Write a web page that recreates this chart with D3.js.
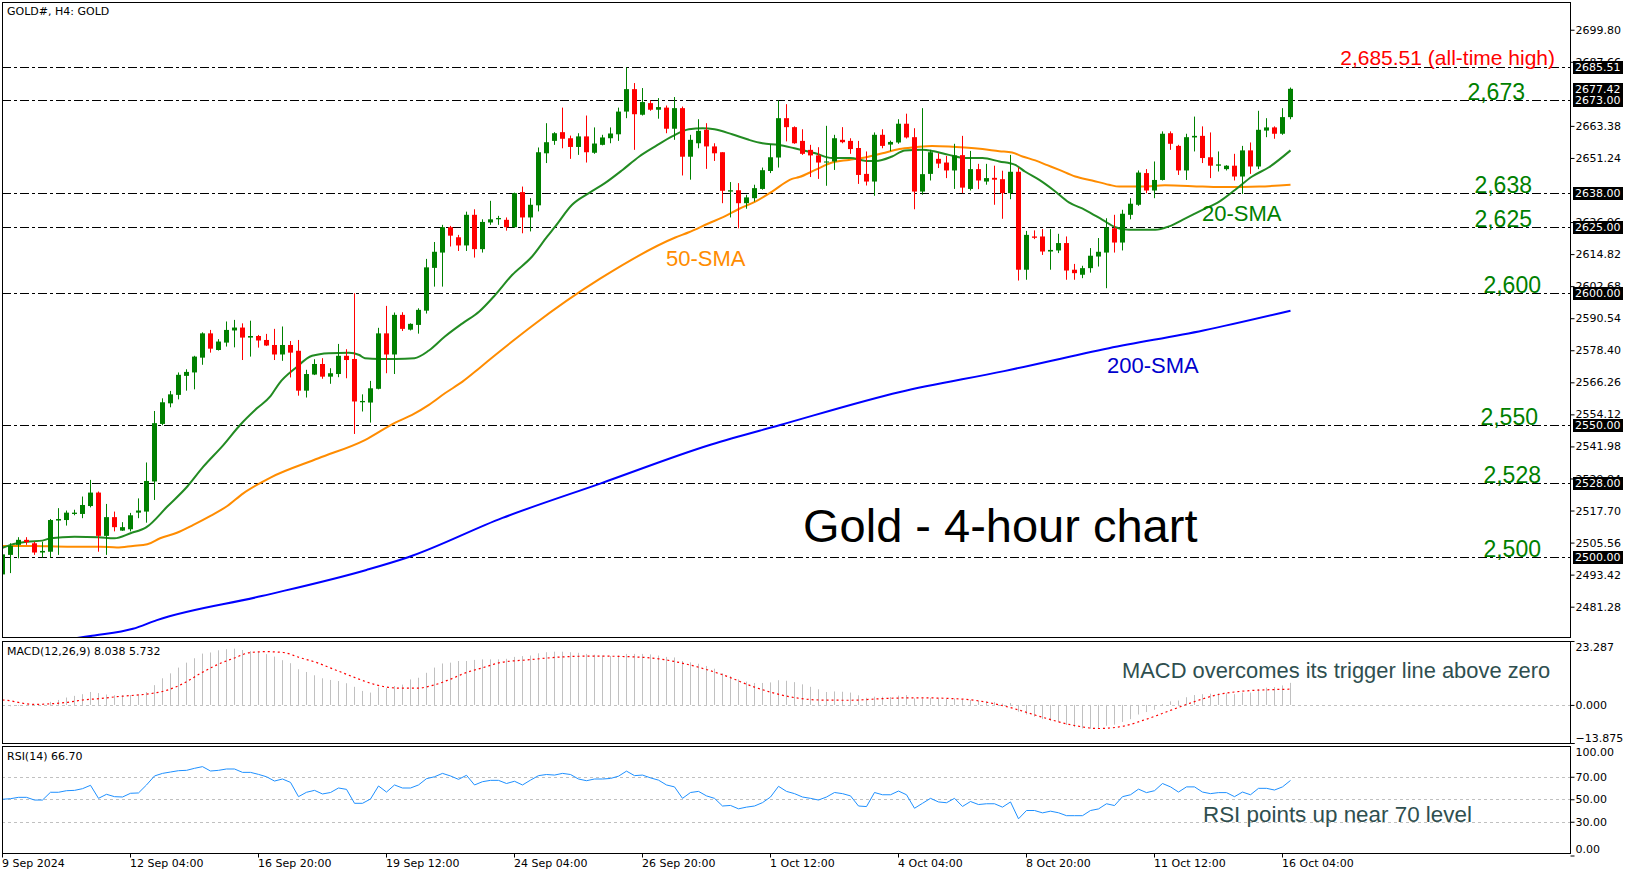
<!DOCTYPE html>
<html><head><meta charset="utf-8">
<script src="https://cdn.jsdelivr.net/npm/d3@7"></script>
<style>body{margin:0;background:#fff;}svg{display:block}</style>
</head><body><svg id="c" width="1640" height="877"></svg>
<script>
// ---- DATA ----
const openP=[2493.5,2500.9,2504.7,2506.6,2505.3,2501.8,2502.1,2513.9,2514.1,2516.4,2516.4,2519.4,2524.5,2508.1,2515.2,2510.1,2510.6,2516.9,2517.3,2528.7,2550.5,2558.3,2561.5,2568.7,2570,2575.6,2584.8,2578.5,2581.3,2585.9,2587,2583.2,2583.8,2582.3,2580.4,2576.8,2580.4,2578.2,2563.1,2569.2,2573.2,2568.4,2569.4,2576.3,2575.1,2558.7,2558.6,2563.8,2584.8,2576.8,2591.8,2586.2,2588,2593.4,2609.6,2615.4,2625,2621.2,2618.1,2629.7,2616.7,2626.8,2628,2627.8,2625,2638.3,2628.7,2633.3,2653,2657.7,2661,2658.7,2655.4,2659.4,2653.2,2656.2,2658.7,2660.2,2668.8,2677.3,2667.6,2672,2669.5,2670.3,2662.3,2670.1,2651.7,2656.8,2661.9,2655.6,2653.4,2638.5,2639,2634.1,2636,2639.5,2646.3,2651.4,2666.3,2662.9,2657.7,2654.3,2652.2,2649.5,2649.9,2658.1,2657.7,2655,2645.2,2642.3,2660,2656.3,2657.1,2664.2,2659.1,2638.5,2645.2,2650.9,2649.5,2646.5,2652.3,2639.5,2647,2642.3,2643.7,2643.2,2637.9,2646,2608.9,2621.5,2621.5,2615.8,2616.2,2619,2608.9,2607,2609.5,2613.9,2615.4,2624.6,2619.2,2629.7,2633.5,2645.5,2638.9,2642.9,2660.6,2655.8,2646.5,2659,2659.6,2651.5,2648.3,2647,2648.3,2644.2,2654.1,2648,2661.6,2662.8,2660.4,2666.7];
const highP=[2501.5,2505.3,2507.6,2507.6,2505.9,2505.9,2514.5,2518.6,2517.7,2518,2523,2529.3,2524.9,2520.2,2517.3,2513.3,2516.8,2522.3,2535.9,2555.4,2560.2,2563,2570,2571.2,2576.3,2585.2,2586.1,2582.6,2589.3,2589.9,2588.6,2589.6,2584.2,2584.6,2586.5,2587.4,2581.9,2582.3,2571,2575,2575.4,2571.6,2580.8,2578.8,2600,2561.7,2566.8,2586.9,2595.2,2592.7,2592.8,2588.6,2594.3,2613,2619.4,2625.9,2625.5,2622.1,2630.9,2631.8,2628,2635,2629.3,2628.7,2638.1,2640.4,2636,2655.2,2664.4,2661,2670.3,2659.7,2660.6,2667.3,2662.8,2660,2662.8,2670.3,2685.5,2679.6,2677.7,2673,2673.9,2671.1,2674.3,2670.7,2660,2665.9,2664.4,2656.8,2653.4,2642.1,2641.7,2637.3,2641.1,2647.6,2656.5,2673,2671.6,2663.2,2662.1,2656.2,2655.3,2663.4,2660,2662.9,2658.7,2657.7,2653.7,2660.9,2662.1,2657.8,2665.9,2668,2662.5,2670.1,2654.3,2653,2652,2656.6,2659.6,2653.9,2649,2649,2648.3,2646.4,2652.4,2647.7,2623.6,2623.8,2624.3,2624.3,2622.5,2621.5,2611.1,2610.4,2617.1,2620.9,2628.4,2629.7,2631.6,2636,2646.5,2647,2649.9,2661.3,2661.3,2656.2,2660.4,2666.9,2663.2,2660.9,2653.7,2648.5,2652.8,2655.8,2657.1,2669.1,2666.3,2663.2,2670.1,2677.9];
const lowP=[2491,2494,2499.6,2504.7,2500.9,2499.9,2499.9,2500.9,2512,2515.9,2514.8,2518.9,2502.1,2500.9,2509.8,2510,2509.8,2514.8,2513.1,2521.7,2550,2556.8,2559.8,2563.1,2563.6,2572.9,2577.5,2578.3,2579.8,2579.5,2574.7,2576,2579.4,2580,2574.7,2574.4,2568.1,2561.2,2560.5,2569,2567.6,2565.7,2568.2,2567.8,2546.7,2555.2,2551,2563.6,2569.7,2569.4,2585.7,2585.9,2584.7,2592.3,2602.5,2602.5,2617.7,2616,2616,2613.5,2615.4,2625.9,2625.9,2623.7,2624.8,2622.7,2623.4,2631,2649.3,2656.2,2654.9,2650.9,2652.4,2649.5,2652.8,2656,2656.8,2657.7,2666.3,2654.3,2667.3,2669.1,2666.1,2660.6,2658.1,2644.6,2643,2654.9,2647.1,2650.1,2634.1,2628.7,2624.6,2632,2634.7,2639.2,2645.5,2647.6,2657.5,2656.6,2652.4,2644,2643.3,2640.7,2646.7,2656.8,2652.8,2641.4,2640.8,2636.9,2654.9,2653.8,2656.6,2658.6,2631.8,2637.3,2642.7,2647.4,2643.6,2639.5,2637.9,2638.9,2639.4,2641.1,2633.5,2628.2,2635.6,2604.8,2605.1,2620.5,2614.5,2608.9,2615.2,2605.1,2605.1,2605.7,2607.8,2610.1,2601.9,2615.4,2616.2,2628,2633.1,2637.9,2636,2642.7,2654.3,2644.8,2642.9,2653.7,2649.3,2643.6,2646.1,2646.5,2642.7,2637.6,2645.2,2647,2659.1,2658.5,2660,2665.9];
const closeP=[2501.1,2504.3,2506.6,2505.7,2501.8,2502.4,2514.1,2514.5,2516.9,2516.9,2519.8,2524.5,2508.1,2515.2,2511.4,2511.4,2515.9,2517.7,2528.9,2550.8,2558.7,2561.7,2569.1,2570.2,2576,2584.8,2579,2581.7,2586.1,2587,2583.2,2583.8,2582.1,2580.2,2576.8,2580.4,2577.5,2563.1,2569.4,2573.2,2568.4,2569.7,2576.3,2574.7,2559,2559.2,2564,2584.8,2576.8,2591.8,2586.5,2588.4,2593.7,2609.8,2615.7,2625,2621.8,2618.1,2629.7,2616.7,2627,2628,2628.5,2625,2637.9,2628.7,2633.5,2653.4,2657.2,2660.6,2658.5,2655.4,2659.4,2653.4,2656.7,2659,2660.5,2668.8,2677.3,2667.8,2672.4,2669.5,2670.5,2662.3,2670.1,2651.7,2658.1,2661.5,2655.6,2653,2638.8,2639,2634.1,2636.3,2639.8,2646.6,2651.5,2666.3,2662.9,2656.8,2652.8,2652.2,2649.5,2649.9,2658.7,2657.2,2654.6,2644.8,2642.3,2660,2655.8,2657.3,2664.2,2659,2638.5,2645.1,2653.4,2649.1,2646.5,2652.2,2640,2647,2642.7,2643.6,2643,2637.9,2646,2608.9,2622.1,2621,2615.8,2616.4,2619,2608.6,2607.6,2609.5,2614.2,2615.7,2624.9,2619.2,2630.1,2633.9,2645.7,2638.9,2642.9,2660.4,2656.6,2646.5,2659.1,2659.6,2651.2,2648.3,2648.8,2648.3,2644.2,2654.1,2648,2661.9,2662.8,2660.4,2666.7,2677.42];
// moving averages: [bar index, value]
const sma20=[[0,2503.6],[1,2504.7],[3,2505.9],[5,2506.3],[6,2507.2],[9,2507.8],[12,2507.6],[14,2507.2],[16,2509.1],[18,2511.4],[20.6,2519.2],[23.1,2526.8],[25.1,2534.3],[27.6,2542.5],[29.7,2550.1],[31.8,2556.4],[33.5,2561],[34.6,2565.9],[36.6,2571.6],[38.7,2576.3],[40.8,2577.3],[43.3,2577.5],[44.6,2576.6],[45.3,2575.4],[47.1,2575.1],[49.1,2575.1],[51.5,2575.4],[53.3,2578.3],[55.3,2583.6],[57.5,2588.6],[59.6,2593.1],[61.6,2599.4],[63.7,2606.9],[66.2,2613.9],[68.1,2621.5],[69.1,2625.3],[71.2,2633.5],[73.3,2637.9],[75.3,2641.7],[77.5,2646.7],[79.6,2651.8],[81.6,2655.6],[83.7,2659.4],[85.8,2662.1],[87.5,2662.5],[89,2662.1],[91.2,2660.2],[93.3,2658.1],[95,2656.8],[97,2656.2],[99,2654.9],[101.6,2653],[103.7,2651.2],[106,2651.2],[108,2650.1],[109.2,2650.1],[111.2,2651.8],[112.8,2654.1],[115,2654.3],[116.2,2653.9],[118.3,2652.4],[120.3,2651.2],[122.5,2651.2],[124.6,2649.9],[126.6,2648.6],[127.8,2646.1],[129.6,2642.9],[131.4,2639],[133.3,2634.4],[135.3,2631.6],[137.5,2627.8],[139.1,2625],[140.8,2624],[144.1,2624],[145.8,2625.3],[147.5,2627.8],[150,2631.6],[152.1,2634.7],[154.1,2639.2],[156.2,2644.2],[158.3,2647.7],[161,2654.1]];
const sma50=[[0,2504.3],[3.8,2504.3],[8.1,2504],[12.2,2504],[14.3,2503.7],[16.3,2504.3],[18.1,2504.9],[19.7,2507.2],[21.8,2509.3],[23.8,2512.2],[26,2515.7],[28.1,2519.4],[30.1,2524.2],[31.8,2527.4],[33.5,2530.2],[39.5,2537.5],[45.3,2544.4],[49.1,2551],[51.2,2553.9],[53.3,2557.7],[55.3,2562.1],[57.5,2566.5],[59.6,2571.6],[61.6,2576.6],[63.7,2581.7],[66.2,2587.6],[74.7,2605.5],[84.1,2621.1],[85.8,2623.1],[88.3,2626.5],[90,2628.7],[92.1,2632],[94.1,2634.7],[96.2,2638.5],[98.7,2643.3],[99.6,2644],[101.6,2646.7],[103.7,2649.5],[105.8,2650.5],[107.8,2651.4],[110,2653],[112.1,2654.6],[114.1,2655.3],[116.2,2655.8],[118.3,2655.6],[120.3,2655.2],[122.5,2654.6],[124.6,2653.8],[126.2,2653.3],[127.5,2651.8],[129.1,2650.3],[130.6,2648.5],[132.1,2646.7],[134.1,2644.2],[136.2,2642.7],[138.3,2641.1],[139.6,2640.4],[142.5,2640.4],[145.3,2640.9],[150,2640.4],[152.8,2640.2],[157.1,2640.4],[161,2641.1]];
const sma200=[[0,2465.5],[11.2,2470.3],[16.3,2472.9],[19.3,2476.2],[32.4,2485.3],[45.5,2495.2],[50.7,2500],[62.5,2514.9],[74.8,2528],[88.6,2542.7],[97.1,2550],[112.2,2562.6],[125.2,2570.5],[138.3,2579.2],[150.1,2585.9],[161,2593.4]];
const macdHist=[-0.6,-0.5,-0.3,-0.1,0.05,0.2,1.1,1.8,2.7,3.3,3.9,4.7,4.3,3.8,3.5,3.6,3.6,3.8,4.7,7.2,9.7,11.5,13.6,15.4,17,18.7,19.1,19.9,20.3,20.5,20.0,19.6,19.3,18.5,17.6,16.3,15.2,13,12,10.8,9.7,9.1,8.7,7.9,6.6,5.1,4.5,6.4,6.1,6.9,7.4,9.3,9.9,11.7,13.6,15.1,15.4,16,16,16.4,16.6,16.6,16.6,16.8,17.5,17.8,18,18.8,19.2,19.4,19.4,19.2,19,18.6,18.3,18,17.8,18,18.6,18.6,18.6,18.4,18,17.5,17.3,16,15.5,15,14.2,13.2,11.5,10.5,9.3,8.5,8,8,8.2,9,8.8,8.3,7.5,6.6,5.7,4.7,4.9,4.8,4.5,3.5,2.6,3,3,2.9,3.4,3.6,2.4,2.3,2.5,2.4,2.2,2.3,1.8,1.8,1.5,1.3,1.1,0.5,0.7,-2.5,-3.5,-4.3,-5.2,-5.8,-6.2,-7.3,-8.1,-8.6,-8.7,-8.6,-7.6,-7.2,-6.2,-5.2,-3.5,-2.6,-1.8,0.3,1.3,1.6,2.8,3.6,3.9,4.1,4.2,4.2,3.9,4.5,4.5,5.8,6.3,6.5,7.1,8.038];
const macdSignal=[[0,1.8],[1,1.5],[2,0.9],[3,0.4],[4,0.2],[6,0.4],[8,0.9],[10,1.8],[12.2,2.3],[14.3,3.0],[16.4,3.5],[18.5,4.1],[20.5,5.3],[22.6,7.8],[24.7,11.4],[26.8,14.6],[28.9,17],[31,19.1],[33,19.4],[35.1,19.1],[37.2,17.2],[39.3,15.4],[41.4,13],[43.5,10.6],[45.5,8.4],[47.6,6.7],[49.7,6.1],[51.8,6.1],[53.9,7.2],[56,9.4],[58,11.8],[60.1,13.6],[62.2,15.4],[66,16.5],[70,17.5],[74,17.8],[78,17.6],[82,16.8],[86,14.5],[90,11],[94,6.5],[98,3.2],[102,1.8],[106,1.7],[110,2.3],[114,2.6],[118,2.4],[122,1.5],[126,-1],[130,-4.5],[134,-7.5],[137,-8.6],[140,-7.8],[143,-5.2],[146,-2],[149,1.2],[152,3.8],[155,5],[158,5.5],[161,5.732]];
const rsi=[50,50.5,51.7,51.7,49.3,49.3,56.2,56.2,57.6,57.9,59.4,62.4,50.8,54.4,52.3,52,55.3,55.6,62.7,70.7,73,74.2,75.4,75.7,77.5,79,75.1,75.7,76.9,76.9,73.9,73.9,72.1,70,66.2,68,65,52.3,56.2,57.9,54.7,56,60,58.8,46.4,46.4,50.2,61.8,56.4,62.7,60,60,62.7,68.3,70,73,70.7,67.7,71.3,62.7,65.6,66.8,66.8,64,66,62.7,67,71,72,71.5,73,72,68,66.5,68,68,68.5,70.5,75,71,71.5,69,67,62.7,61,50.8,56,57,53,50.8,44,44.5,41.5,43,44,47,52,61.5,57,55,52,50.8,49.3,52,56,55,53,44,43.5,56,54,54,57.3,54,42,46.4,50.8,47.6,46.9,50.8,43.6,48,45.3,46,46,43,47.6,32.6,40,40,37.9,39.4,38,35.4,35.4,35.4,40,41.4,46,44.4,52.3,54,59,55.9,57.6,64,61,56.4,61,61,56.4,55,55.9,55.9,52.3,56.4,54,59.7,59.7,58.2,61,66.7];
// visible price-axis tick labels (2675.52 and 2639.10 are fully covered in the reference)
const priceTicks=[2699.80,2687.66,2663.38,2651.24,2626.96,2614.82,2602.68,2590.54,2578.40,2566.26,2554.12,2541.98,2529.84,2517.70,2505.56,2493.42,2481.28];
const levels=[2685.51,2673,2638,2625,2600,2550,2528,2500];
const boxLabels=[2685.51,2677.42,2673.00,2638.00,2625.00,2600.00,2550.00,2528.00,2500.00];
const levelTexts=[["2,673",2673,1525],["2,638",2638,1532],["2,625",2625,1532],["2,600",2600,1541],["2,550",2550,1538],["2,528",2528,1541],["2,500",2500,1541]];
const macdTicks=[23.287,0,-13.875];
const rsiTicks=[100,70,50,30,0];
const xTickBars=[0,16,32,48,64,80,96,112,128,144,160];
const xTickLabels=["9 Sep 2024","12 Sep 04:00","16 Sep 20:00","19 Sep 12:00","24 Sep 04:00","26 Sep 20:00","1 Oct 12:00","4 Oct 04:00","8 Oct 20:00","11 Oct 12:00","16 Oct 04:00"];

// ---- LAYOUT ----
const L=2, R=1570;
const main={top:2,bottom:637}, mp={top:641,bottom:743}, rp={top:746,bottom:853};
const svg=d3.select("#c");
const x=d3.scaleLinear().domain([0,161]).range([2.5,1290.5]);
const y=d3.scaleLinear().domain([2469.8,2710.3]).range([637,2]);
const ym=d3.scaleLinear().domain([-13.875,23.287]).range([743,641]);
const yr=d3.scaleLinear().domain([0,100]).range([855.5,743]);
const AX="DejaVu Sans, sans-serif", TX="Liberation Sans, Arial, sans-serif";

const defs=svg.append("defs");
[["cm",main],["cmacd",mp],["crsi",rp]].forEach(([id,p])=>{
  defs.append("clipPath").attr("id",id).append("rect").attr("x",L).attr("y",p.top).attr("width",R-L).attr("height",p.bottom-p.top);
});

// main panel
const g=svg.append("g").attr("clip-path","url(#cm)");
g.selectAll("line.lvl").data(levels).join("line").attr("class","lvl")
 .attr("x1",L).attr("x2",R).attr("y1",d=>Math.round(y(d))+0.5).attr("y2",d=>Math.round(y(d))+0.5)
 .attr("stroke","#000").attr("stroke-width",1).attr("stroke-dasharray","9,3,3,3");

const line=d3.line().x(d=>x(d[0])).y(d=>y(d[1])).curve(d3.curveMonotoneX);
g.append("path").datum(sma200).attr("d",line).attr("fill","none").attr("stroke","#0000FF").attr("stroke-width",2);
g.append("path").datum(sma50).attr("d",line).attr("fill","none").attr("stroke","#FF8C00").attr("stroke-width",2);
g.append("path").datum(sma20).attr("d",line).attr("fill","none").attr("stroke","#228B22").attr("stroke-width",2);

const idx=d3.range(closeP.length);
const col=i=>closeP[i]>=openP[i]?"#008000":"#FF0000";
g.selectAll("line.wick").data(idx).join("line").attr("class","wick")
 .attr("x1",i=>Math.floor(x(i))+0.5).attr("x2",i=>Math.floor(x(i))+0.5)
 .attr("y1",i=>y(highP[i])).attr("y2",i=>y(lowP[i])).attr("stroke",col).attr("stroke-width",1);
g.selectAll("rect.body").data(idx).join("rect").attr("class","body")
 .attr("x",i=>Math.floor(x(i))-2).attr("width",5)
 .attr("y",i=>y(Math.max(openP[i],closeP[i])))
 .attr("height",i=>Math.max(1,Math.abs(y(openP[i])-y(closeP[i]))))
 .attr("fill",col);

// MACD panel
const gm=svg.append("g").attr("clip-path","url(#cmacd)");
gm.append("line").attr("x1",L).attr("x2",R).attr("y1",Math.round(ym(0))+0.5).attr("y2",Math.round(ym(0))+0.5)
 .attr("stroke","#C0C0C0").attr("stroke-dasharray","3,3");
gm.selectAll("line.h").data(idx).join("line").attr("class","h")
 .attr("x1",i=>Math.floor(x(i))+0.5).attr("x2",i=>Math.floor(x(i))+0.5)
 .attr("y1",ym(0)).attr("y2",i=>ym(macdHist[i])).attr("stroke","#C0C0C0").attr("stroke-width",1);
gm.append("path").datum(macdSignal).attr("d",d3.line().x(d=>x(d[0])).y(d=>ym(d[1])).curve(d3.curveMonotoneX))
 .attr("fill","none").attr("stroke","#FF0000").attr("stroke-width",1.2).attr("stroke-dasharray","2,3");

// RSI panel
const gr=svg.append("g").attr("clip-path","url(#crsi)");
gr.selectAll("line.rl").data([70,50,30]).join("line").attr("class","rl")
 .attr("x1",L).attr("x2",R).attr("y1",d=>Math.round(yr(d))+0.5).attr("y2",d=>Math.round(yr(d))+0.5)
 .attr("stroke","#C0C0C0").attr("stroke-dasharray","3,3");
gr.append("path").datum(rsi).attr("d",d3.line().x((d,i)=>x(i)).y(d=>yr(d)))
 .attr("fill","none").attr("stroke","#1E90FF").attr("stroke-width",1);

// frames
const fr=svg.append("g").attr("stroke","#000").attr("stroke-width",1).attr("fill","none");
[main,mp,rp].forEach(p=>fr.append("rect").attr("x",L+0.5).attr("y",p.top+0.5).attr("width",R-L).attr("height",p.bottom-p.top));

// price axis
const ya=svg.append("g").attr("transform",`translate(${R+0.5},0)`);
ya.call(d3.axisRight(y).tickValues(priceTicks).tickSize(4).tickFormat(d3.format(".2f")));
ya.select(".domain").remove();
ya.selectAll("text").attr("font-family",AX).attr("font-size",11).attr("fill","#000").attr("x",5);
ya.selectAll(".tick line").attr("stroke","#000");
// black value boxes
const bx=svg.append("g");
boxLabels.forEach(v=>{
  const yy=Math.round(y(v));
  bx.append("rect").attr("x",1573).attr("y",yy-6).attr("width",50).attr("height",13).attr("fill","#000");
  bx.append("text").attr("x",1575).attr("y",yy).attr("dy","0.35em").attr("font-family",AX).attr("font-size",11).attr("fill","#fff").text(v.toFixed(2));
});
// macd axis
const ma=svg.append("g").attr("transform",`translate(${R+0.5},0)`);
ma.call(d3.axisRight(ym).tickValues(macdTicks).tickSize(4).tickFormat(d3.format(".3f")));
ma.select(".domain").remove();
ma.selectAll("text").attr("font-family",AX).attr("font-size",11).attr("fill","#000").attr("x",5)
 .attr("dy",d=>d===23.287?"0.9em":(d===-13.875?"-0.1em":"0.32em"));
// rsi axis
const ra=svg.append("g").attr("transform",`translate(${R+0.5},0)`);
ra.call(d3.axisRight(yr).tickValues(rsiTicks).tickSize(4).tickFormat(d3.format(".2f")));
ra.select(".domain").remove();
ra.selectAll("text").attr("font-family",AX).attr("font-size",11).attr("fill","#000").attr("x",5)
 .attr("dy",d=>d===100?"1.1em":(d===0?"-0.3em":"0.32em"));

// time axis
const xa=svg.append("g").attr("transform",`translate(0,${rp.bottom+0.5})`);
xa.call(d3.axisBottom(x).tickValues(xTickBars).tickSize(4).tickFormat((d,i)=>xTickLabels[i]));
xa.select(".domain").remove();
xa.selectAll(".tick line").attr("stroke","#000").attr("transform","translate(-0.5,0)");
xa.selectAll("text").attr("font-family",AX).attr("font-size",11).attr("fill","#000").attr("text-anchor","start").attr("x",-1).attr("y",6).attr("dy","0.71em");

// panel titles
svg.append("text").attr("x",7).attr("y",15).attr("font-family",AX).attr("font-size",11).text("GOLD#, H4:  GOLD");
svg.append("text").attr("x",7).attr("y",655).attr("font-family",AX).attr("font-size",11).text("MACD(12,26,9) 8.038 5.732");
svg.append("text").attr("x",7).attr("y",760).attr("font-family",AX).attr("font-size",11).text("RSI(14) 66.70");

// annotations
svg.append("text").attr("x",1555).attr("y",y(2685.51)-2).attr("text-anchor","end").attr("font-family",TX).attr("font-size",21).attr("fill","#FF0000").text("2,685.51 (all-time high)");
levelTexts.forEach(([t,v,xe])=>{
  svg.append("text").attr("x",xe).attr("y",y(v)).attr("text-anchor","end").attr("font-family",TX).attr("font-size",23).attr("fill","#008000").text(t);
});
svg.append("text").attr("x",1202).attr("y",221).attr("font-family",TX).attr("font-size",22).attr("fill","#008000").text("20-SMA");
svg.append("text").attr("x",666).attr("y",266).attr("font-family",TX).attr("font-size",22).attr("fill","#FF8C00").text("50-SMA");
svg.append("text").attr("x",1107).attr("y",373).attr("font-family",TX).attr("font-size",22).attr("fill","#0000CD").text("200-SMA");
svg.append("text").attr("x",803).attr("y",542).attr("font-family",TX).attr("font-size",47).attr("fill","#000").text("Gold - 4-hour chart");
svg.append("text").attr("x",1122).attr("y",678).attr("font-family",TX).attr("font-size",21.9).attr("fill","#2F4F4F").text("MACD overcomes its trigger line above zero");
svg.append("text").attr("x",1203).attr("y",822).attr("font-family",TX).attr("font-size",22.4).attr("fill","#2F4F4F").text("RSI points up near 70 level");
</script></body></html>
